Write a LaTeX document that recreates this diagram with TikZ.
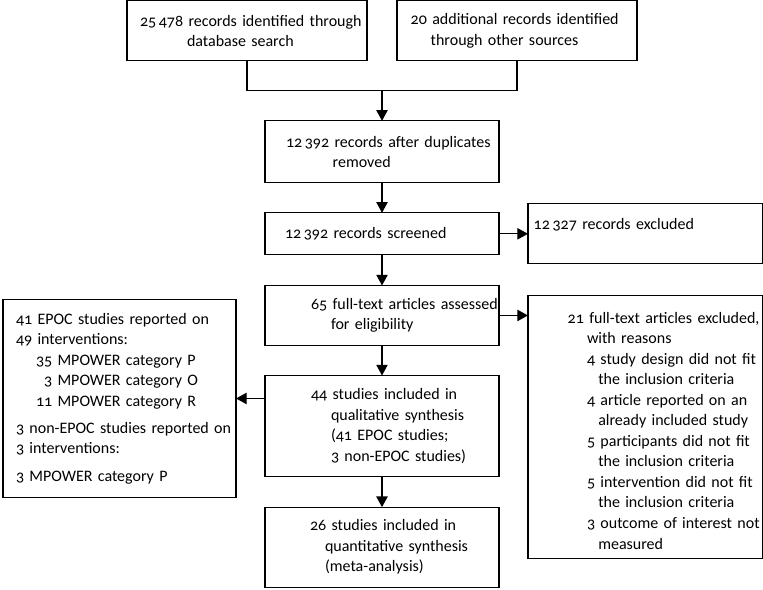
\documentclass[tikz,border=0pt]{standalone}
\usepackage{fontspec}
\setmainfont{Carlito}[Numbers=OldStyle]
\usepackage{tikz}
\usetikzlibrary{arrows.meta,positioning,calc}
\newcommand{\indby}[1]{\hspace*{#1}}

\begin{document}
\begin{tikzpicture}[
    node distance=22.5pt,
    box/.style={rectangle, draw, line width=0.9pt, outer sep=0pt, inner xsep=0pt, inner ysep=0pt, align=left, font={\fontsize{12}{15.4}\selectfont}},
    topbox/.style={box, text width=180pt, minimum height=45pt},
    midbox/.style={box, text width=175.5pt},
    sidebox/.style={box, text width=176pt},
    arrow/.style={-{Triangle[length=8pt,width=8.5pt]}, line width=0.9pt},
    link/.style={line width=0.9pt}
]
\useasboundingbox (0,0) rectangle (572.25pt,-441.75pt);

% Identification
\node[topbox, anchor=north west] (dbsearch) at (95.25pt,-0.6pt) {\indby{9.75pt}25\,478 records identified through\\\indby{45pt}database search};
\node[topbox, right=of dbsearch] (othersrc) {\indby{10.3pt}20 additional records identified\\\indby{25.3pt}through other sources};
\coordinate (merge) at ($(dbsearch.south)!0.5!(othersrc.south)+(0,-22.5pt)$);

% Screening
\node[midbox, minimum height=46.5pt, below=of merge] (nodup) {\indby{15.75pt}12\,392 records after duplicates\\\indby{50.8pt}removed};
\node[midbox, minimum height=31.5pt, below=of nodup] (screened) {\indby{15pt}12\,392 records screened};
\node[sidebox, minimum height=45pt, right=21.75pt of screened] (excluded) {\indby{4.3pt}12\,327 records excluded\\\mbox{}};

% Eligibility
\node[midbox, minimum height=45pt, below=23pt of screened] (fulltext) {\indby{34.5pt}65 full-text articles assessed\\\indby{49.5pt}for eligibility};
\node[sidebox, minimum height=197pt, right=21.75pt of fulltext.north east, anchor=north west, yshift=-7.5pt] (ftexcl) {\rule{0pt}{14pt}\indby{29.8pt}21 full-text articles excluded,\\
    \indby{44.25pt}with reasons\\
    \indby{44.25pt}4 study design did not fit\\
    \indby{52.7pt}the inclusion criteria\\
    \indby{44.25pt}4 article reported on an\\
    \indby{52.7pt}already included study\\
    \indby{44.25pt}5 participants did not fit\\
    \indby{52.7pt}the inclusion criteria\\
    \indby{44.25pt}5 intervention did not fit\\
    \indby{52.7pt}the inclusion criteria\\
    \indby{44.25pt}3 outcome of interest not\\
    \indby{52.7pt}measured};

% Included
\node[midbox, minimum height=75.75pt, below=of fulltext] (qual) {\indby{34.5pt}44 studies included in\\\indby{49.5pt}qualitative synthesis\\\indby{49.5pt}(41 EPOC studies;\\\indby{49.5pt}3 non-EPOC studies)};
\node[box, text width=174.75pt, minimum height=148.5pt, left=21.75pt of qual.north west, anchor=north east, yshift=57pt] (epoc) {\indby{9.75pt}41 EPOC studies reported on\\
    \indby{9.75pt}49 interventions:\\
    \indby{24.75pt}35 MPOWER category P\\
    \indby{24.75pt}\phantom{3}3 MPOWER category O\\
    \indby{24.75pt}11 MPOWER category R\\[5pt]
    \indby{9.75pt}3 non-EPOC studies reported on\\
    \indby{9.75pt}3 interventions:\\[5pt]
    \indby{9.75pt}3 MPOWER category P};
\node[midbox, minimum height=60pt, below=23pt of qual] (quant) {\indby{33.75pt}26 studies included in\\\indby{45pt}quantitative synthesis\\\indby{45pt}(meta-analysis)};

% Arrows
\draw[link] (dbsearch.south) -- ++(0,-22.5pt) -| (othersrc.south);
\draw[arrow] (merge) -- (nodup);
\draw[arrow] (nodup) -- (screened);
\draw[arrow] (screened) -- (excluded);
\draw[arrow] (screened) -- (fulltext);
\draw[arrow] (fulltext.east) -- (fulltext.east -| ftexcl.west);
\draw[arrow] (fulltext) -- (qual);
\draw[arrow] (qual.west |- epoc.east) -- (epoc.east);
\draw[arrow] (qual) -- (quant);

\end{tikzpicture}
\end{document}
